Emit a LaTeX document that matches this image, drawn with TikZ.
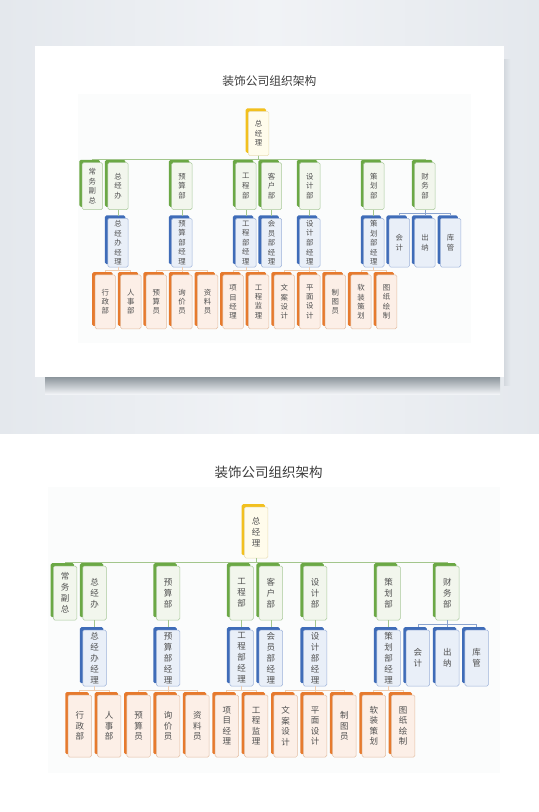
\documentclass[tikz,border=0pt]{standalone}
\usepackage{fontspec}
\setmainfont{Noto Sans CJK SC}
\usepackage{tikz}
\usetikzlibrary{shadows}

\definecolor{bgEdge}{HTML}{E4E8ED}
\definecolor{bgMid}{HTML}{F1F3F6}
\definecolor{shadowGray}{HTML}{8C959C}
\definecolor{sideShadow}{HTML}{D3D8DE}
\definecolor{panelFill}{HTML}{FBFCFC}
\definecolor{titleGray}{HTML}{3C3C3C}
\definecolor{textGray}{HTML}{505050}
\definecolor{yBack}{HTML}{F2C01E}
\definecolor{yFill}{HTML}{FFFCEC}
\definecolor{yLine}{HTML}{E9DDB4}
\definecolor{gBack}{HTML}{6BA845}
\definecolor{gFill}{HTML}{F2F6ED}
\definecolor{gLine}{HTML}{A9C99A}
\definecolor{bBack}{HTML}{3F6CB8}
\definecolor{bFill}{HTML}{E9EFF8}
\definecolor{bLine}{HTML}{9DB2D9}
\definecolor{oBack}{HTML}{E67A2E}
\definecolor{oFill}{HTML}{FCEFE7}
\definecolor{oLine}{HTML}{E3BEA2}
\definecolor{gConn}{HTML}{A3C68C}
\definecolor{bConn}{HTML}{8AA3CF}
\definecolor{oConn}{HTML}{EFCDB0}

\tikzset{
	box/.style={rectangle, rounded corners=1.5bp, inner sep=0pt, minimum width=23.5bp, line width=0.5bp, align=center, text=textGray, font=\fontsize{8.5bp}{11bp}\selectfont},
	ybox/.style={box, minimum height=51bp, draw=yLine, fill=yFill, general shadow={shadow xshift=-2.8bp, shadow yshift=2.8bp, fill=yBack}},
	gbox/.style={box, minimum height=54bp, draw=gLine, fill=gFill, general shadow={shadow xshift=-2.8bp, shadow yshift=2.8bp, fill=gBack}},
	bbox/.style={box, minimum height=56bp, draw=bLine, fill=bFill, general shadow={shadow xshift=-2.8bp, shadow yshift=2.8bp, fill=bBack}},
	obox/.style={box, minimum height=62bp, draw=oLine, fill=oFill, font=\fontsize{8.5bp}{10.5bp}\selectfont, general shadow={shadow xshift=-2.8bp, shadow yshift=2.8bp, fill=oBack}},
	gline/.style={draw=gConn, line width=0.8bp},
	bline/.style={draw=bConn, line width=0.8bp},
	oline/.style={draw=oConn, line width=0.8bp}
}

% the whole chart, in the coordinates of the large copy
\newcommand{\orgchart}{%
	% faint panel and title
	\fill[panelFill] (48,487) rectangle (500,773);
	\node[font=\fontsize{13.5bp}{16bp}\selectfont, text=titleGray] (title) at (268.5,472) {装饰公司组织架构};
	
	% top
	\node[ybox] (zjl) at (256.2,532.5) {总\\经\\理};
	
	% departments
	\node[gbox] (cwfz) at (65.1,593) {常\\务\\副\\总};
	\node[gbox] (zjb) at (94.5,593) {总\\经\\办};
	\node[gbox] (ysb) at (168.0,593) {预\\算\\部};
	\node[gbox] (gcb) at (241.5,593) {工\\程\\部};
	\node[gbox] (khb) at (270.9,593) {客\\户\\部};
	\node[gbox] (sjb) at (315.0,593) {设\\计\\部};
	\node[gbox] (chb) at (388.5,593) {策\\划\\部};
	\node[gbox] (cwb) at (447.3,593) {财\\务\\部};
	
	% managers
	\node[bbox] (zjbjl) at (94.5,658) {总\\经\\办\\经\\理};
	\node[bbox] (ysbjl) at (168.0,658) {预\\算\\部\\经\\理};
	\node[bbox] (gcbjl) at (241.5,658) {工\\程\\部\\经\\理};
	\node[bbox] (hybjl) at (270.9,658) {会\\员\\部\\经\\理};
	\node[bbox] (sjbjl) at (315.0,658) {设\\计\\部\\经\\理};
	\node[bbox] (chbjl) at (388.5,658) {策\\划\\部\\经\\理};
	\node[bbox] (kj) at (417.9,658) {会\\计};
	\node[bbox] (cn) at (447.3,658) {出\\纳};
	\node[bbox] (kg) at (476.7,658) {库\\管};
	
	% staff
	\node[obox] (xzb) at (79.8,726) {行\\政\\部};
	\node[obox] (rsb) at (109.2,726) {人\\事\\部};
	\node[obox] (ysy) at (138.6,726) {预\\算\\员};
	\node[obox] (xjy) at (168.0,726) {询\\价\\员};
	\node[obox] (zly) at (197.4,726) {资\\料\\员};
	\node[obox] (xmjl) at (226.8,726) {项\\目\\经\\理};
	\node[obox] (gcjl) at (256.2,726) {工\\程\\监\\理};
	\node[obox] (wasj) at (285.6,726) {文\\案\\设\\计};
	\node[obox] (pmsj) at (315.0,726) {平\\面\\设\\计};
	\node[obox] (zty) at (344.4,726) {制\\图\\员};
	\node[obox] (rzch) at (373.8,726) {软\\装\\策\\划};
	\node[obox] (tzhz) at (403.2,726) {图\\纸\\绘\\制};
	
	% connectors
	\foreach \dep in {cwfz,zjb,ysb,gcb,khb,sjb,chb,cwb}
		\draw[gline] (zjl.south) -- ++(0,4) -| ([yshift=2.8bp]\dep.north);
	\draw[gline] (zjb.south) -- ([yshift=2.8bp]zjbjl.north);
	\draw[gline] (ysb.south) -- ([yshift=2.8bp]ysbjl.north);
	\draw[gline] (gcb.south) -- ([yshift=2.8bp]gcbjl.north);
	\draw[gline] (khb.south) -- ([yshift=2.8bp]hybjl.north);
	\draw[gline] (sjb.south) -- ([yshift=2.8bp]sjbjl.north);
	\draw[gline] (chb.south) -- ([yshift=2.8bp]chbjl.north);
	\foreach \kid in {kj,cn,kg}
		\draw[bline] (cwb.south) -- ++(0,4) -| ([yshift=2.8bp]\kid.north);
	\foreach \kid in {xzb,rsb}
		\draw[oline] (zjbjl.south) -- ++(0,4) -| ([yshift=2.8bp]\kid.north);
	\foreach \kid in {ysy,xjy,zly}
		\draw[oline] (ysbjl.south) -- ++(0,4) -| ([yshift=2.8bp]\kid.north);
	\foreach \kid in {xmjl,gcjl}
		\draw[oline] (gcbjl.south) -- ++(0,4) -| ([yshift=2.8bp]\kid.north);
	\foreach \kid in {wasj,pmsj,zty}
		\draw[oline] (sjbjl.south) -- ++(0,4) -| ([yshift=2.8bp]\kid.north);
	\foreach \kid in {rzch,tzhz}
		\draw[oline] (chbjl.south) -- ++(0,4) -| ([yshift=2.8bp]\kid.north);
}

\begin{document}
\begin{tikzpicture}[x=1bp,y=-1bp]
	
	% Draw the grey backdrop, the card and its shadow
	\useasboundingbox (0,0) rectangle (539,812);
	\fill[white] (0,0) rectangle (539,812);
	\shade[left color=bgEdge, right color=bgEdge, middle color=bgMid] (0,0) rectangle (539,433);
	\shade[left color=sideShadow, right color=bgEdge] (504,60) rectangle (510,385);
	\shade[top color=shadowGray, bottom color=bgMid] (45,377) rectangle (500,394);
	\fill[white] (35,46) rectangle (504,377);
	
	% Draw the small chart on the card
	\begin{scope}[name prefix=card-, shift={(35.8,-329.8)}, scale=0.87, transform shape]
		\orgchart
	\end{scope}
	
	% Draw the large chart below
	\begin{scope}[name prefix=page-]
		\orgchart
	\end{scope}
	
\end{tikzpicture}
\end{document}
